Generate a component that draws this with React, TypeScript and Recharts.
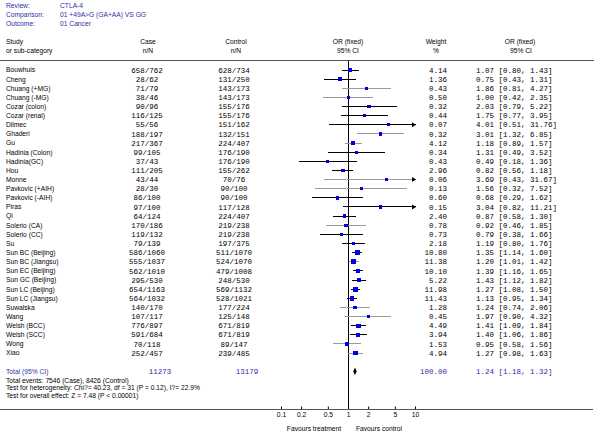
import { ComposedChart, Line, XAxis, YAxis, ReferenceLine, ReferenceArea } from "recharts";

// CTLA-4 +49A>G forest plot (OR, fixed effect)
const studies = [
  "Bouwhuis", "Cheng", "Chuang (+MG)", "Chuang (-MG)", "Cozar (colon)", "Cozar (renal)",
  "Dilmec", "Ghaderi", "Gu", "Hadinia (Colon)", "Hadinia(GC)", "Hou", "Monne",
  "Pavkovic (+AIH)", "Pavkovic (-AIH)", "Piras", "Qi", "Solerio (CA)", "Solerio (CC)", "Su",
  "Sun BC (Beijing)", "Sun BC (Jiangsu)", "Sun EC (Beijing)", "Sun GC (Beijing)",
  "Sun LC (Beijing)", "Sun LC (Jiangsu)", "Suwalska", "Wang", "Welsh (BCC)", "Welsh (SCC)",
  "Wong", "Xiao",
];
const caseN = [
  "658/762", "28/62", "71/79", "38/46", "90/96", "116/125", "55/56", "188/197", "217/367",
  "99/105", "37/43", "111/205", "43/44", "28/30", "86/100", "97/100", "64/124", "170/186",
  "119/132", "79/139", "586/1060", "555/1037", "562/1010", "295/530", "654/1163", "564/1032",
  "140/170", "107/117", "776/897", "591/684", "70/118", "252/457",
];
const controlN = [
  "628/734", "131/250", "143/173", "143/173", "155/176", "155/176", "151/162", "132/151",
  "224/407", "176/190", "176/190", "155/262", "70/76", "90/100", "90/100", "117/128",
  "224/407", "219/238", "219/238", "197/375", "511/1070", "524/1070", "479/1008", "248/530",
  "569/1132", "528/1021", "177/224", "125/148", "671/819", "671/819", "89/147", "239/485",
];
const weights = [
  4.14, 1.36, 0.43, 0.5, 0.32, 0.44, 0.07, 0.32, 4.12, 0.34, 0.43, 2.96, 0.06, 0.13, 0.6, 0.15,
  2.4, 0.78, 0.73, 2.18, 10.8, 11.38, 10.1, 5.22, 11.98, 11.43, 1.28, 0.45, 4.49, 3.94, 1.53, 4.94,
];
const orValues = [
  1.07, 0.75, 1.86, 1.0, 2.03, 1.75, 4.01, 3.01, 1.18, 1.31, 0.49, 0.82, 3.69, 1.56, 0.68, 3.04,
  0.87, 0.92, 0.79, 1.19, 1.35, 1.2, 1.39, 1.43, 1.27, 1.13, 1.24, 1.97, 1.41, 1.4, 0.95, 1.27,
];
const ciLow = [
  0.8, 0.43, 0.81, 0.42, 0.79, 0.77, 0.51, 1.32, 0.89, 0.49, 0.18, 0.56, 0.43, 0.32, 0.29, 0.82,
  0.58, 0.46, 0.38, 0.8, 1.14, 1.01, 1.16, 1.12, 1.08, 0.95, 0.74, 0.9, 1.09, 1.06, 0.58, 0.98,
];
const ciHigh = [
  1.43, 1.31, 4.27, 2.35, 5.22, 3.95, 31.76, 6.85, 1.57, 3.52, 1.36, 1.18, 31.67, 7.52, 1.62, 11.21,
  1.3, 1.85, 1.66, 1.76, 1.6, 1.42, 1.65, 1.82, 1.5, 1.34, 2.06, 4.32, 1.84, 1.86, 1.56, 1.63,
];
const total = { caseN: "11273", controlN: "13179", weight: 100.0, or: 1.24, lo: 1.18, hi: 1.32 };
const xTicks = [0.1, 0.2, 0.5, 1, 2, 5, 10];

const X_MIN = 0.1;
const X_MAX = 10;
const TOTAL_ROW = studies.length + 1;

const SANS = "'Liberation Sans', Arial, sans-serif";
const MONO = "'Liberation Mono', 'Courier New', monospace";
const SANS_SIZE = 6.7;
const BLUE_TEXT = "#2e2ea6";
const SQUARE = "#0000e8";
const GREY = "#9a9a9a";
// rows whose CI lines look grey in the original
const GREY_ROWS = new Set([2, 3, 7, 8, 12, 13, 17, 21, 26, 27, 30, 31]);

const rows = studies.map((name, i) => ({
  row: i,
  name,
  or: orValues[i],
  lo: ciLow[i],
  hi: ciHigh[i],
  weight: weights[i],
}));
const rowTicks = [...rows.map((r) => r.row), TOTAL_ROW];

const clamp = (v: number) => Math.min(X_MAX, Math.max(X_MIN, v));
const fmt2 = (v: number) => v.toFixed(2);
const ciText = (o: number, l: number, h: number) => `${fmt2(o)} [${fmt2(l)}, ${fmt2(h)}]`;

function LeftTick(props: any) {
  const { y, payload } = props;
  const i = payload.value;
  const mono = { fontFamily: MONO, fontSize: 7.5 };
  if (i === TOTAL_ROW) {
    return (
      <g fill={BLUE_TEXT}>
        <text x={6} y={y} dy="0.35em" fontFamily={SANS} fontSize={SANS_SIZE}>Total (95% CI)</text>
        <text x={160} y={y} dy="0.35em" textAnchor="middle" {...mono}>{total.caseN}</text>
        <text x={247} y={y} dy="0.35em" textAnchor="middle" {...mono}>{total.controlN}</text>
      </g>
    );
  }
  if (i < 0 || i >= studies.length) return null;
  return (
    <g fill="#000">
      <text x={6} y={y} dy="0.35em" fontFamily={SANS} fontSize={SANS_SIZE}>{studies[i]}</text>
      <text x={147} y={y} dy="0.35em" textAnchor="middle" {...mono}>{caseN[i]}</text>
      <text x={234} y={y} dy="0.35em" textAnchor="middle" {...mono}>{controlN[i]}</text>
    </g>
  );
}

function RightTick(props: any) {
  const { y, payload } = props;
  const i = payload.value;
  const mono = { fontFamily: MONO, fontSize: 7.5 };
  if (i === TOTAL_ROW) {
    return (
      <g fill={BLUE_TEXT}>
        <text x={447} y={y} dy="0.35em" textAnchor="end" {...mono}>{fmt2(total.weight)}</text>
        <text x={476} y={y} dy="0.35em" {...mono}>{ciText(total.or, total.lo, total.hi)}</text>
      </g>
    );
  }
  if (i < 0 || i >= studies.length) return null;
  return (
    <g fill="#000">
      <text x={447} y={y} dy="0.35em" textAnchor="end" {...mono}>{fmt2(weights[i])}</text>
      <text x={476} y={y} dy="0.35em" {...mono}>{ciText(orValues[i], ciLow[i], ciHigh[i])}</text>
    </g>
  );
}

const renderSquare = (p: any) => {
  const s = 3 + Math.sqrt(p.payload.weight) * 0.5;
  return (
    <rect key={`sq-${p.index}`} x={p.cx - s / 2} y={p.cy - s / 2} width={s} height={s}
      fill={SQUARE} shapeRendering="crispEdges" />
  );
};

const ciShape = (grey: boolean, arrow: boolean) => (p: any) => (
  <g>
    <line x1={p.x1} y1={p.y1} x2={p.x2} y2={p.y2} stroke={grey ? GREY : "#000"}
      strokeWidth={1} shapeRendering="crispEdges" />
    {arrow && (
      <polygon points={`${p.x2 + 0.5},${p.y2} ${p.x2 - 3.5},${p.y2 - 2.5} ${p.x2 - 3.5},${p.y2 + 2.5}`} fill="#000" />
    )}
  </g>
);

const diamondShape = (p: any) => {
  const { x, y, width, height } = p;
  const cx = x + width / 2;
  const cy = y + height / 2;
  return (
    <polygon points={`${x},${cy} ${cx},${y} ${x + width},${cy} ${cx},${y + height}`} fill="#000" />
  );
};

function Overlay() {
  const lab = { fontFamily: SANS, fontSize: SANS_SIZE, dominantBaseline: "central" as const };
  return (
    <svg width={600} height={433} style={{ position: "absolute", left: 0, top: 0, pointerEvents: "none" }}>
      <g fill={BLUE_TEXT} {...lab}>
        <text x={6} y={5}>Review:</text>
        <text x={60} y={5}>CTLA-4</text>
        <text x={6} y={14.3}>Comparison:</text>
        <text x={60} y={14.3}>01 +49A&gt;G (GA+AA) VS GG</text>
        <text x={6} y={23.3}>Outcome:</text>
        <text x={60} y={23.3}>01 Cancer</text>
      </g>
      <g fill="#000" {...lab}>
        <text x={6} y={41.7}>Study</text>
        <text x={6} y={50.7}>or sub-category</text>
        <text x={148} y={41.7} textAnchor="middle">Case</text>
        <text x={148} y={50.7} textAnchor="middle">n/N</text>
        <text x={236} y={41.7} textAnchor="middle">Control</text>
        <text x={236} y={50.7} textAnchor="middle">n/N</text>
        <text x={348} y={41.7} textAnchor="middle">OR (fixed)</text>
        <text x={348} y={50.7} textAnchor="middle">95% CI</text>
        <text x={436} y={41.7} textAnchor="middle">Weight</text>
        <text x={436} y={50.7} textAnchor="middle">%</text>
        <text x={520} y={41.7} textAnchor="middle">OR (fixed)</text>
        <text x={521} y={50.7} textAnchor="middle">95% CI</text>
        <text x={6} y={380}>Total events: 7546 (Case), 8426 (Control)</text>
        <text x={6} y={387.3}>Test for heterogeneity: Chi?= 40.23, df = 31 (P = 0.12), I?= 22.9%</text>
        <text x={6} y={395}>Test for overall effect: Z = 7.48 (P &lt; 0.00001)</text>
        <text x={314} y={428} textAnchor="middle">Favours treatment</text>
        <text x={379} y={428} textAnchor="middle">Favours control</text>
      </g>
      <line x1={0} y1={60.5} x2={594} y2={60.5} stroke="#555" strokeWidth={1} />
      <line x1={0} y1={409.5} x2={593} y2={409.5} stroke="#555" strokeWidth={1} />
    </svg>
  );
}

export default function App() {
  return (
    <div style={{ position: "absolute", left: 0, top: 0, width: 600, height: 433, background: "#fff" }}>
      <ComposedChart
        width={600}
        height={433}
        data={rows}
        layout="vertical"
        margin={{ top: 60, right: 0, bottom: 3.5, left: 0 }}
      >
        <XAxis
          type="number"
          scale="log"
          domain={[X_MIN, X_MAX]}
          allowDataOverflow
          ticks={xTicks}
          interval={0}
          height={20}
          tickSize={-3}
          tickMargin={6}
          axisLine={{ stroke: "#000" }}
          tickLine={{ stroke: "#000" }}
          tick={{ fontSize: SANS_SIZE, fill: "#000", fontFamily: SANS }}
        />
        <YAxis
          yAxisId="L"
          type="number"
          dataKey="row"
          domain={[-1.1, 37.18]}
          allowDataOverflow
          ticks={rowTicks}
          interval={0}
          width={281.5}
          axisLine={false}
          tickLine={false}
          tick={(p: any) => <LeftTick {...p} />}
        />
        <YAxis
          yAxisId="R"
          orientation="right"
          type="number"
          dataKey="row"
          domain={[-1.1, 37.18]}
          allowDataOverflow
          ticks={rowTicks}
          interval={0}
          width={184.5}
          axisLine={false}
          tickLine={false}
          tick={(p: any) => <RightTick {...p} />}
        />
        <ReferenceLine yAxisId="L" x={1} stroke="#000" strokeWidth={1} />
        {rows.map((r) => (
          <ReferenceLine
            key={`ci-${r.row}`}
            yAxisId="L"
            ifOverflow="visible"
            segment={[
              { x: clamp(r.lo), y: r.row },
              { x: clamp(r.hi), y: r.row },
            ]}
            shape={ciShape(GREY_ROWS.has(r.row), r.hi > X_MAX)}
          />
        ))}
        <ReferenceArea
          yAxisId="L"
          x1={total.lo}
          x2={total.hi}
          y1={TOTAL_ROW - 0.42}
          y2={TOTAL_ROW + 0.42}
          ifOverflow="visible"
          shape={diamondShape}
        />
        <Line
          yAxisId="L"
          dataKey="or"
          stroke="none"
          dot={renderSquare}
          activeDot={false}
          isAnimationActive={false}
        />
      </ComposedChart>
      <Overlay />
    </div>
  );
}
